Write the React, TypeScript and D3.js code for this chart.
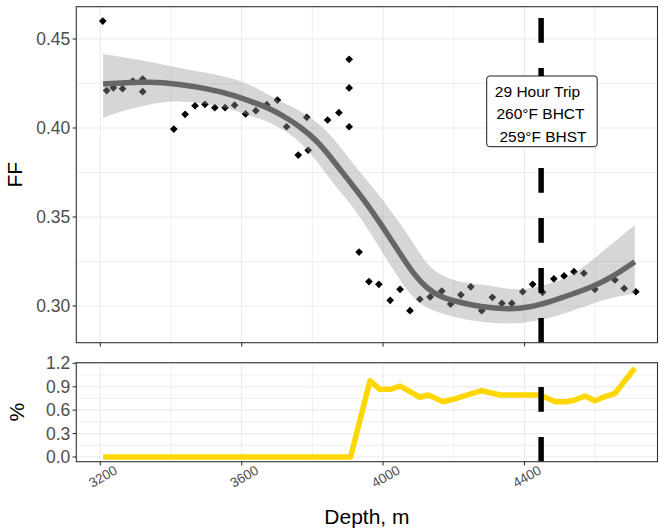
import React from "react";
import * as d3 from "d3";

// ---- data ----
const pointDepth = [3207, 3218, 3237, 3263, 3292, 3320, 3320, 3408, 3440, 3468, 3496, 3524, 3553, 3580, 3611, 3640, 3671, 3701, 3727, 3760, 3784, 3788, 3843, 3875, 3904, 3904, 3904, 3932, 3960, 3988, 4020, 4048, 4076, 4104, 4133, 4166, 4191, 4220, 4248, 4279, 4309, 4336, 4364, 4395, 4423, 4451, 4483, 4512, 4540, 4568, 4599, 4656, 4682, 4715];
const pointFF = [0.4601, 0.421, 0.4226, 0.4221, 0.4264, 0.4275, 0.4204, 0.3994, 0.4077, 0.4125, 0.4133, 0.4114, 0.4114, 0.4128, 0.4079, 0.4097, 0.4131, 0.4157, 0.4007, 0.3848, 0.406, 0.3875, 0.4045, 0.4086, 0.4386, 0.4225, 0.4007, 0.3303, 0.3137, 0.3122, 0.3032, 0.3094, 0.2974, 0.3038, 0.3051, 0.3084, 0.3011, 0.3063, 0.3108, 0.2974, 0.3049, 0.3015, 0.3015, 0.308, 0.3122, 0.3077, 0.3153, 0.3169, 0.3193, 0.3184, 0.3094, 0.3146, 0.3099, 0.308];

const smoothDepth = [3208, 3270, 3341, 3411, 3482, 3553, 3624, 3680, 3737, 3765, 3813, 3858, 3906, 3954, 3999, 4047, 4084, 4124, 4161, 4209, 4274, 4359, 4415, 4472, 4528, 4593, 4650, 4712];
const smoothFit = [0.4247, 0.4256, 0.4258, 0.425, 0.4228, 0.4199, 0.4152, 0.411, 0.4045, 0.4006, 0.393, 0.382, 0.3697, 0.3576, 0.3444, 0.3298, 0.3185, 0.3098, 0.3052, 0.3024, 0.2994, 0.2981, 0.2993, 0.3024, 0.3062, 0.3108, 0.3165, 0.3249];
const smoothUpper = [0.4416, 0.4396, 0.4371, 0.4343, 0.4315, 0.4292, 0.4247, 0.418, 0.4124, 0.4096, 0.4035, 0.3949, 0.382, 0.3708, 0.3596, 0.3466, 0.336, 0.323, 0.3174, 0.3135, 0.3124, 0.309, 0.3096, 0.3124, 0.3163, 0.3258, 0.3354, 0.3455];
const smoothLower = [0.4056, 0.4101, 0.4135, 0.4154, 0.414, 0.4118, 0.4067, 0.4034, 0.3966, 0.3921, 0.3815, 0.3691, 0.3579, 0.3444, 0.3298, 0.3146, 0.3045, 0.2989, 0.2961, 0.2933, 0.291, 0.2899, 0.291, 0.2933, 0.2966, 0.3015, 0.3048, 0.3071];

const pctDepth = [3208, 3908, 3963, 3991, 4020, 4048, 4076, 4104, 4128, 4170, 4199, 4227, 4279, 4331, 4368, 4444, 4487, 4519, 4543, 4571, 4599, 4623, 4656, 4712];
const pctValue = [0, 0, 0.977, 0.867, 0.867, 0.909, 0.836, 0.765, 0.794, 0.708, 0.739, 0.781, 0.849, 0.794, 0.794, 0.794, 0.708, 0.708, 0.73, 0.781, 0.721, 0.765, 0.816, 1.136];

const xTicks = [3200, 3600, 4000, 4400];
const xMinor = [3400, 3800, 4200, 4600];
const ffTicks = [0.3, 0.35, 0.4, 0.45];
const ffMinor = [0.325, 0.375, 0.425];
const pctTicks = [0, 0.3, 0.6, 0.9, 1.2];
const pctMinor = [0.15, 0.45, 0.75, 1.05];
const vlineDepth = 4447;
const labelLines = ["29 Hour Trip", "260°F BHCT", "259°F BHST"];

// ---- layout ----
const W = 660, H = 529;
const L = 76.3, R = 657.5;
const topT = 6.7, topB = 342.7;
const botT = 362.7, botB = 461.7;
const FONT = "'Liberation Sans', Arial, sans-serif";

export default function App() {
  const x = d3.scaleLinear().domain([3200, 4400]).range([100.3, 100.3 + 1200 * 0.3535]);
  const yT = d3.scaleLinear().domain([0.3, 0.45]).range([306, 39]);
  const yB = d3.scaleLinear().domain([0, 1.2]).range([457, 363.3]);

  const pts = pointDepth.map((d, i) => ({ d, v: pointFF[i] }));
  const sm = smoothDepth.map((d, i) => ({ d, f: smoothFit[i], u: smoothUpper[i], l: smoothLower[i] }));
  const pc = pctDepth.map((d, i) => ({ d, v: pctValue[i] }));

  const area = d3.area<any>().x((p) => x(p.d)).y0((p) => yT(p.l)).y1((p) => yT(p.u)).curve(d3.curveBasis);
  const fitLine = d3.line<any>().x((p) => x(p.d)).y((p) => yT(p.f)).curve(d3.curveBasis);
  const pctLine = d3.line<any>().x((p) => x(p.d)).y((p) => yB(p.v));

  const diamond = d3.symbol().type(d3.symbolDiamond2).size(38)();
  const vx = x(vlineDepth);
  const grid = "#EBEBEB";
  const cx = (L + R) / 2;

  return (
    <svg width={W} height={H} style={{ position: "absolute", left: 0, top: 0, background: "#fff" }} fontFamily={FONT}>
      <rect x={0} y={0} width={W} height={H} fill="#fff" />
      <defs>
        <clipPath id="ct"><rect x={L} y={topT} width={R - L} height={topB - topT} /></clipPath>
        <clipPath id="cb"><rect x={L} y={botT} width={R - L} height={botB - botT} /></clipPath>
      </defs>

      {/* top panel grid */}
      {ffMinor.map((t) => <line key={"fm" + t} x1={L} x2={R} y1={yT(t)} y2={yT(t)} stroke={grid} strokeWidth={0.8} />)}
      {xMinor.map((t) => <line key={"xm" + t} x1={x(t)} x2={x(t)} y1={topT} y2={topB} stroke={grid} strokeWidth={0.8} />)}
      {ffTicks.map((t) => <line key={"fM" + t} x1={L} x2={R} y1={yT(t)} y2={yT(t)} stroke={grid} strokeWidth={1.1} />)}
      {xTicks.map((t) => <line key={"xM" + t} x1={x(t)} x2={x(t)} y1={topT} y2={topB} stroke={grid} strokeWidth={1.1} />)}

      <g clipPath="url(#ct)">
        {pts.map((p, i) => <path key={i} d={diamond!} transform={`translate(${x(p.d)},${yT(p.v)})`} fill="#000" />)}
        <path d={area(sm)!} fill="#999999" fillOpacity={0.4} />
        <path d={fitLine(sm)!} fill="none" stroke="#666666" strokeWidth={5.5} />
        <line x1={vx} x2={vx} y1={topB} y2={topT} stroke="#000" strokeWidth={5.5} strokeDasharray="24.7 25.3" />
      </g>
      <rect x={L} y={topT} width={R - L} height={topB - topT} fill="none" stroke="#333" strokeWidth={1.1} />

      {/* annotation label */}
      <rect x={486.7} y={76} width={110.5} height={70.7} rx={3} fill="#fff" stroke="#000" strokeWidth={0.9} />
      {labelLines.map((s, i) => (
        <text key={s} x={[537.5, 540.5, 543][i]} y={96.5 + i * 22.5} textAnchor="middle" fontSize={15.5} fill="#000">{s}</text>
      ))}

      {/* top y axis */}
      {ffTicks.map((t) => (
        <g key={"ft" + t}>
          <line x1={L - 3.7} x2={L} y1={yT(t)} y2={yT(t)} stroke="#333" strokeWidth={1.1} />
          <text x={L - 6} y={yT(t)} dy="0.35em" textAnchor="end" fontSize={17.5} fill="#4D4D4D">{t.toFixed(2)}</text>
        </g>
      ))}
      {xTicks.map((t) => <line key={"tt" + t} x1={x(t)} x2={x(t)} y1={topB} y2={topB + 3.7} stroke="#333" strokeWidth={1.1} />)}
      <text transform={`translate(22,${(topT + topB) / 2}) rotate(-90)`} textAnchor="middle" fontSize={21} fill="#000">FF</text>

      {/* bottom panel */}
      {pctMinor.map((t) => <line key={"pm" + t} x1={L} x2={R} y1={yB(t)} y2={yB(t)} stroke={grid} strokeWidth={0.8} />)}
      {xMinor.map((t) => <line key={"bxm" + t} x1={x(t)} x2={x(t)} y1={botT} y2={botB} stroke={grid} strokeWidth={0.8} />)}
      {pctTicks.map((t) => <line key={"pM" + t} x1={L} x2={R} y1={yB(t)} y2={yB(t)} stroke={grid} strokeWidth={1.1} />)}
      {xTicks.map((t) => <line key={"bxM" + t} x1={x(t)} x2={x(t)} y1={botT} y2={botB} stroke={grid} strokeWidth={1.1} />)}
      <g clipPath="url(#cb)">
        <path d={pctLine(pc)!} fill="none" stroke="#FFD700" strokeWidth={5.5} strokeLinejoin="round" />
        <line x1={vx} x2={vx} y1={botB} y2={botT} stroke="#000" strokeWidth={5.5} strokeDasharray="24.7 25.3" />
      </g>
      <rect x={L} y={botT} width={R - L} height={botB - botT} fill="none" stroke="#333" strokeWidth={1.1} />
      {pctTicks.map((t) => (
        <g key={"pt" + t}>
          <line x1={L - 3.7} x2={L} y1={yB(t)} y2={yB(t)} stroke="#333" strokeWidth={1.1} />
          <text x={L - 6} y={yB(t)} dy="0.35em" textAnchor="end" fontSize={17.5} fill="#4D4D4D">{t.toFixed(1)}</text>
        </g>
      ))}
      {xTicks.map((t) => (
        <g key={"bt" + t}>
          <line x1={x(t)} x2={x(t)} y1={botB} y2={botB + 3.7} stroke="#333" strokeWidth={1.1} />
          <text transform={`translate(${x(t) + 2.5},${476.5}) rotate(-30)`} dy="0.35em" textAnchor="middle" fontSize={13.5} fill="#4D4D4D">{t}</text>
        </g>
      ))}
      <text transform={`translate(24,${(botT + botB) / 2}) rotate(-90)`} textAnchor="middle" fontSize={21} fill="#000">%</text>
      <text x={cx} y={524} textAnchor="middle" fontSize={21} fill="#000">Depth, m</text>
    </svg>
  );
}
